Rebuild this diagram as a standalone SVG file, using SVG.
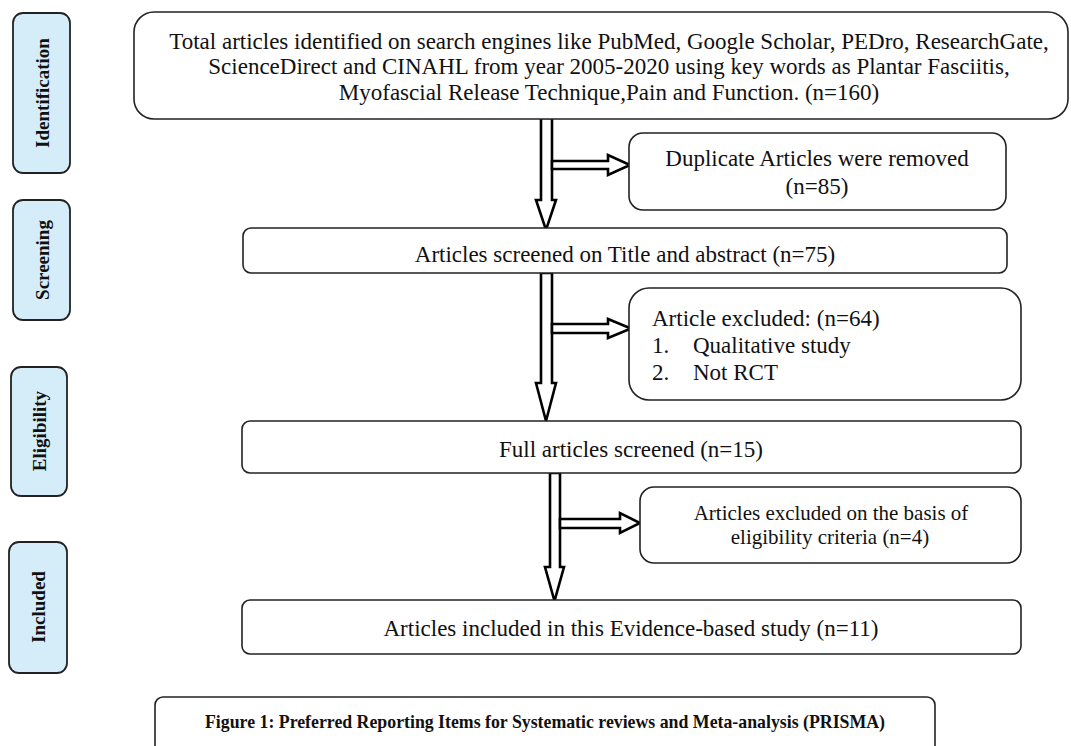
<svg xmlns="http://www.w3.org/2000/svg" width="1071" height="746" viewBox="0 0 1071 746">
<style>
.box{fill:#fff;stroke:#222;stroke-width:1.6}
.side{fill:#d5edf9;stroke:#222;stroke-width:1.8}
.t{font-family:"Liberation Serif","Times New Roman",serif;font-size:23px;fill:#111}
.ts{font-family:"Liberation Serif","Times New Roman",serif;font-size:21px;fill:#111}
.sl{font-family:"Liberation Serif","Times New Roman",serif;font-size:19px;font-weight:bold;fill:#111;text-anchor:middle}
.cap{font-family:"Liberation Serif","Times New Roman",serif;font-size:19px;font-weight:bold;fill:#111;text-anchor:middle}
.mid{text-anchor:middle}
.arr{fill:#fff;stroke:#000;stroke-width:2.6;stroke-linejoin:miter}
</style>
<rect width="1071" height="746" fill="#fff"/>

<g id="side-identification"><rect class="side" x="13" y="13" width="57" height="160" rx="10"/><text class="sl" transform="translate(49,93) rotate(-90)">Identification</text></g>
<g id="side-screening"><rect class="side" x="13" y="200" width="57" height="120" rx="10"/><text class="sl" transform="translate(49,260) rotate(-90)">Screening</text></g>
<g id="side-eligibility"><rect class="side" x="11" y="367" width="56" height="129" rx="10"/><text class="sl" transform="translate(46,431) rotate(-90)">Eligibility</text></g>
<g id="side-included"><rect class="side" x="9" y="542" width="58" height="131" rx="10"/><text class="sl" transform="translate(45,607) rotate(-90)">Included</text></g>

<g id="connectors">
<polygon class="arr" points="541,118 552,118 552,200 556,200 546,230 536,200 541,200"/>
<polygon class="arr" points="552,161 608,161 608,155 630,165 608,175 608,169 552,169"/>
<polygon class="arr" points="541,273 552,273 552,383 556,383 546,421 536,383 541,383"/>
<polygon class="arr" points="552,324 608,324 608,319 631,328.5 608,338 608,333 552,333"/>
<polygon class="arr" points="550,473 560,473 560,567 564,567 554.5,601 545,567 550,567"/>
<polygon class="arr" points="560,519 620,519 620,513 640,523 620,533 620,528 560,528"/>
</g>

<g id="node-total"><rect class="box" x="134" y="12" width="934" height="107" rx="20"/>
<text class="t mid" x="609" y="49">Total articles identified on search engines like PubMed, Google Scholar, PEDro, ResearchGate,</text>
<text class="t mid" x="609" y="74">ScienceDirect and CINAHL from year 2005-2020 using key words as Plantar Fasciitis,</text>
<text class="t mid" x="609" y="100">Myofascial Release Technique,Pain and Function. (n=160)</text></g>

<g id="node-duplicate"><rect class="box" x="629" y="133" width="377" height="77" rx="14"/>
<text class="t mid" x="817" y="166">Duplicate Articles were removed</text>
<text class="t mid" x="817" y="194">(n=85)</text></g>

<g id="node-screened"><rect class="box" x="243" y="228" width="764" height="45" rx="8"/>
<text class="t mid" x="625" y="262">Articles screened on Title and abstract (n=75)</text></g>

<g id="node-excluded"><rect class="box" x="629" y="288" width="392" height="112" rx="20"/>
<text class="t" x="652" y="326">Article excluded: (n=64)</text>
<text class="t" x="652" y="353">1.</text><text class="t" x="693" y="353">Qualitative study</text>
<text class="t" x="652" y="380">2.</text><text class="t" x="693" y="380">Not RCT</text></g>

<g id="node-full"><rect class="box" x="242" y="421" width="779" height="52" rx="8"/>
<text class="t mid" x="631" y="457">Full articles screened (n=15)</text></g>

<g id="node-eligexcluded"><rect class="box" x="640" y="487" width="381" height="76" rx="14"/>
<text class="ts mid" x="831" y="520">Articles excluded on the basis of</text>
<text class="ts mid" x="830" y="544">eligibility criteria (n=4)</text></g>

<g id="node-included"><rect class="box" x="242" y="600" width="779" height="54" rx="8"/>
<text class="t mid" x="631" y="636">Articles included in this Evidence-based study (n=11)</text></g>

<g id="caption"><rect class="box" x="155" y="697" width="780" height="70" rx="8"/>
<text class="cap" x="545" y="728" textLength="680" lengthAdjust="spacingAndGlyphs">Figure 1: Preferred Reporting Items for Systematic reviews and Meta-analysis (PRISMA)</text></g>
</svg>
